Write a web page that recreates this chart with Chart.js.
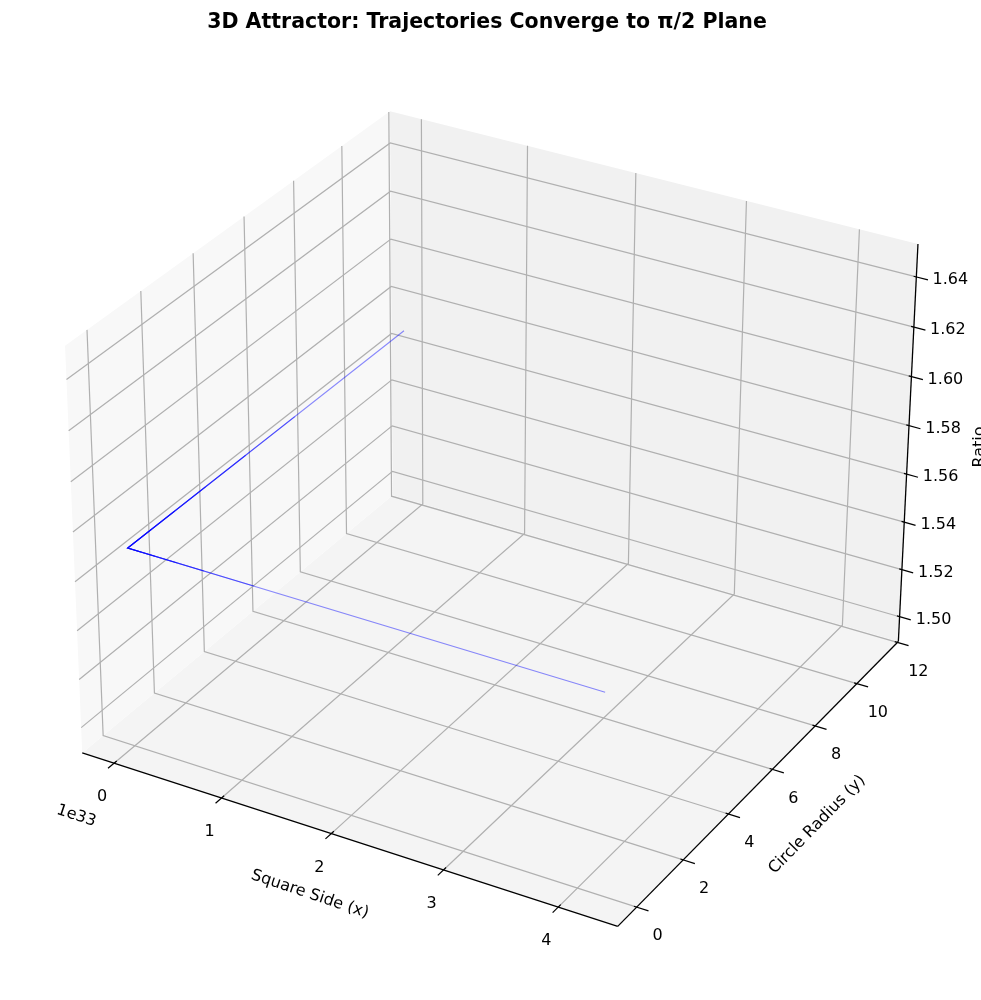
<!DOCTYPE html>
<html>
<head>
<meta charset="utf-8">
<title>3D Attractor</title>
<script src="https://cdn.jsdelivr.net/npm/chart.js@4.4.1/dist/chart.umd.min.js"></script>
<style>
  html, body { margin: 0; padding: 0; background: #ffffff; }
  #wrap { width: 981px; height: 1000px; }
</style>
</head>
<body>
<div id="wrap"><canvas id="chart" width="981" height="1000"></canvas></div>
<script>
/* ---- Data ---- */
// tick values on the three axes (x is in units of 1e33)
const xTicks = [0, 1, 2, 3, 4];
const yTicks = [0, 2, 4, 6, 8, 10, 12];
const zTicks = [1.50, 1.52, 1.54, 1.56, 1.58, 1.60, 1.62, 1.64];

// axis limits of the drawn box (pane extents)
const xLim = [-0.30, 4.51];
const yLim = [-0.80, 12.05];
const zLim = [1.4894, 1.6530];

// trajectories: one row per trajectory, one column per point
const HALF_PI = Math.PI / 2;
const trajX = [
  [0, 0, 4.21],
  [0, 0, 1.15],
  [0, 0, 0.70],
  [0, 0, 0.45],
  [0, 0, 0.25],
  [0, 0, 0.12]
];
const trajY = [
  [11.25, 0, 0],
  [6.6, 0, 0],
  [4.6, 0, 0],
  [3.0, 0, 0],
  [1.8, 0, 0],
  [0.9, 0, 0]
];
const trajZ = trajX.map((row) => row.map(() => HALF_PI));

/* ---- View: fit a perspective camera to the box corners seen in the figure ---- */
// normalized box corner (u, v, w) -> pixel on the 981x1000 canvas
const boxCorners = [
  [0, 0, 0, 83, 753],
  [1, 0, 0, 617, 927],
  [1, 1, 0, 899, 640],
  [0, 1, 0, 392, 496],
  [0, 0, 1, 65, 345],
  [0, 1, 1, 390, 111],
  [1, 1, 1, 918, 245]
];

function fitProjection(pts) {
  const A = [];
  const b = [];
  pts.forEach(([u, v, w, px, py]) => {
    const sx = px / 1000, sy = py / 1000;
    A.push([u, v, w, 1, 0, 0, 0, 0, -sx * u, -sx * v, -sx * w]); b.push(sx);
    A.push([0, 0, 0, 0, u, v, w, 1, -sy * u, -sy * v, -sy * w]); b.push(sy);
  });
  const n = 11;
  const M = [];
  for (let i = 0; i < n; i++) {
    const row = new Array(n + 1).fill(0);
    for (let j = 0; j < n; j++) {
      for (let k = 0; k < A.length; k++) row[j] += A[k][i] * A[k][j];
    }
    for (let k = 0; k < A.length; k++) row[n] += A[k][i] * b[k];
    M.push(row);
  }
  // Gauss-Jordan with partial pivoting
  for (let c = 0; c < n; c++) {
    let p = c;
    for (let r = c + 1; r < n; r++) if (Math.abs(M[r][c]) > Math.abs(M[p][c])) p = r;
    [M[c], M[p]] = [M[p], M[c]];
    for (let r = 0; r < n; r++) {
      if (r === c) continue;
      const f = M[r][c] / M[c][c];
      for (let k = c; k <= n; k++) M[r][k] -= f * M[c][k];
    }
  }
  return M.map((row, i) => row[n] / row[i]);
}

const P = fitProjection(boxCorners);

// normalized box coords -> chart point
function projN(u, v, w) {
  const d = P[8] * u + P[9] * v + P[10] * w + 1;
  return {
    x: 1000 * (P[0] * u + P[1] * v + P[2] * w + P[3]) / d,
    y: 1000 * (P[4] * u + P[5] * v + P[6] * w + P[7]) / d
  };
}
const nx = (x) => (x - xLim[0]) / (xLim[1] - xLim[0]);
const ny = (y) => (y - yLim[0]) / (yLim[1] - yLim[0]);
const nz = (z) => (z - zLim[0]) / (zLim[1] - zLim[0]);
// data coords -> chart point
function proj(x, y, z) {
  return projN(nx(x), ny(y), nz(z));
}

/* ---- Datasets ---- */
const datasets = [];

function addPath(points, color, width, order, fill) {
  datasets.push({
    data: points,
    showLine: true,
    borderColor: color,
    borderWidth: width,
    backgroundColor: fill || "transparent",
    fill: fill ? "shape" : false,
    pointRadius: 0,
    pointHoverRadius: 0,
    tension: 0,
    order: order
  });
}

// panes: left wall (x = min), back wall (y = max), floor (z = min)
addPath([projN(0, 0, 0), projN(0, 1, 0), projN(0, 1, 1), projN(0, 0, 1), projN(0, 0, 0)],
  "rgba(0,0,0,0)", 0, 10, "#f8f8f8");
addPath([projN(0, 1, 0), projN(1, 1, 0), projN(1, 1, 1), projN(0, 1, 1), projN(0, 1, 0)],
  "rgba(0,0,0,0)", 0, 10, "#f1f1f1");
addPath([projN(0, 0, 0), projN(1, 0, 0), projN(1, 1, 0), projN(0, 1, 0), projN(0, 0, 0)],
  "rgba(0,0,0,0)", 0, 10, "#f4f4f4");

// grid lines, each bent through the pane intersection
const gridColor = "#b0b0b0";
xTicks.forEach((t) => {
  const u = nx(t);
  addPath([projN(u, 0, 0), projN(u, 1, 0), projN(u, 1, 1)], gridColor, 1.2, 8);
});
yTicks.forEach((t) => {
  const v = ny(t);
  addPath([projN(1, v, 0), projN(0, v, 0), projN(0, v, 1)], gridColor, 1.2, 8);
});
zTicks.forEach((t) => {
  const w = nz(t);
  addPath([projN(1, 1, w), projN(0, 1, w), projN(0, 0, w)], gridColor, 1.2, 8);
});

// axis lines
addPath([projN(0, 0, 0), projN(1, 0, 0)], "#000000", 1.3, 6);
addPath([projN(1, 0, 0), projN(1, 1, 0)], "#000000", 1.3, 6);
addPath([projN(1, 1, 0), projN(1, 1, 1)], "#000000", 1.3, 6);

// tick marks
xTicks.forEach((t) => addPath([projN(nx(t), -0.018, 0), projN(nx(t), 0.008, 0)], "#000000", 1.2, 6));
yTicks.forEach((t) => addPath([projN(0.995, ny(t), 0), projN(1.021, ny(t), 0)], "#000000", 1.2, 6));
zTicks.forEach((t) => addPath([projN(0.995, 1, nz(t)), projN(1.021, 1, nz(t))], "#000000", 1.2, 6));

// trajectories
trajX.forEach((xs, i) => {
  const pts = xs.map((x, k) => proj(x, trajY[i][k], trajZ[i][k]));
  addPath(pts, "rgba(0,0,255,0.45)", 1.1, 1);
});

/* ---- Text (title, tick labels, axis labels) ---- */
const FONT = "'DejaVu Sans', 'Liberation Sans', sans-serif";

const textPlugin = {
  id: "axisText",
  afterDraw(chart) {
    const ctx = chart.ctx;
    const sx = chart.scales.x, sy = chart.scales.y;
    const put = (str, p, dx, dy, angle, font, align) => {
      ctx.save();
      ctx.translate(sx.getPixelForValue(p.x) + dx, sy.getPixelForValue(p.y) + dy);
      ctx.rotate(angle * Math.PI / 180);
      ctx.font = font;
      ctx.fillStyle = "#000000";
      ctx.textAlign = align || "center";
      ctx.textBaseline = "middle";
      ctx.fillText(str, 0, 0);
      ctx.restore();
    };
    const tickFont = "16px " + FONT;

    put("3D Attractor: Trajectories Converge to \u03c0/2 Plane", { x: 487, y: 23 }, 0, 0, 0, "bold 20.5px " + FONT);

    xTicks.forEach((t) => put(String(t), projN(nx(t), 0, 0), -12, 34, 0, tickFont));
    yTicks.forEach((t) => put(String(t), projN(1, ny(t), 0), 21, 29, 0, tickFont));
    zTicks.forEach((t) => put(t.toFixed(2), projN(1, 1, nz(t)), 34, 3, 0, tickFont));

    const xMid = projN(0.5, 0, 0);
    put("Square Side (x)", xMid, -33, 57, 18.5, tickFont);
    const yMid = projN(1, 0.5, 0);
    put("Circle Radius (y)", yMid, 53, 47, -45.7, tickFont);
    const zMid = projN(1, 1, 0.5);
    put("Ratio", zMid, 72, 0, -90, tickFont);
    put("1e33", projN(0, 0, 0), -6, 63, 18.5, tickFont);
  }
};

new Chart(document.getElementById("chart"), {
  type: "scatter",
  data: { datasets: datasets },
  options: {
    responsive: false,
    animation: false,
    events: [],
    layout: { padding: 0 },
    scales: {
      x: { type: "linear", min: 0, max: 981, display: false },
      y: { type: "linear", min: 0, max: 1000, reverse: true, display: false }
    },
    plugins: {
      legend: { display: false },
      tooltip: { enabled: false },
      title: { display: false }
    }
  },
  plugins: [textPlugin]
});
</script>
</body>
</html>
